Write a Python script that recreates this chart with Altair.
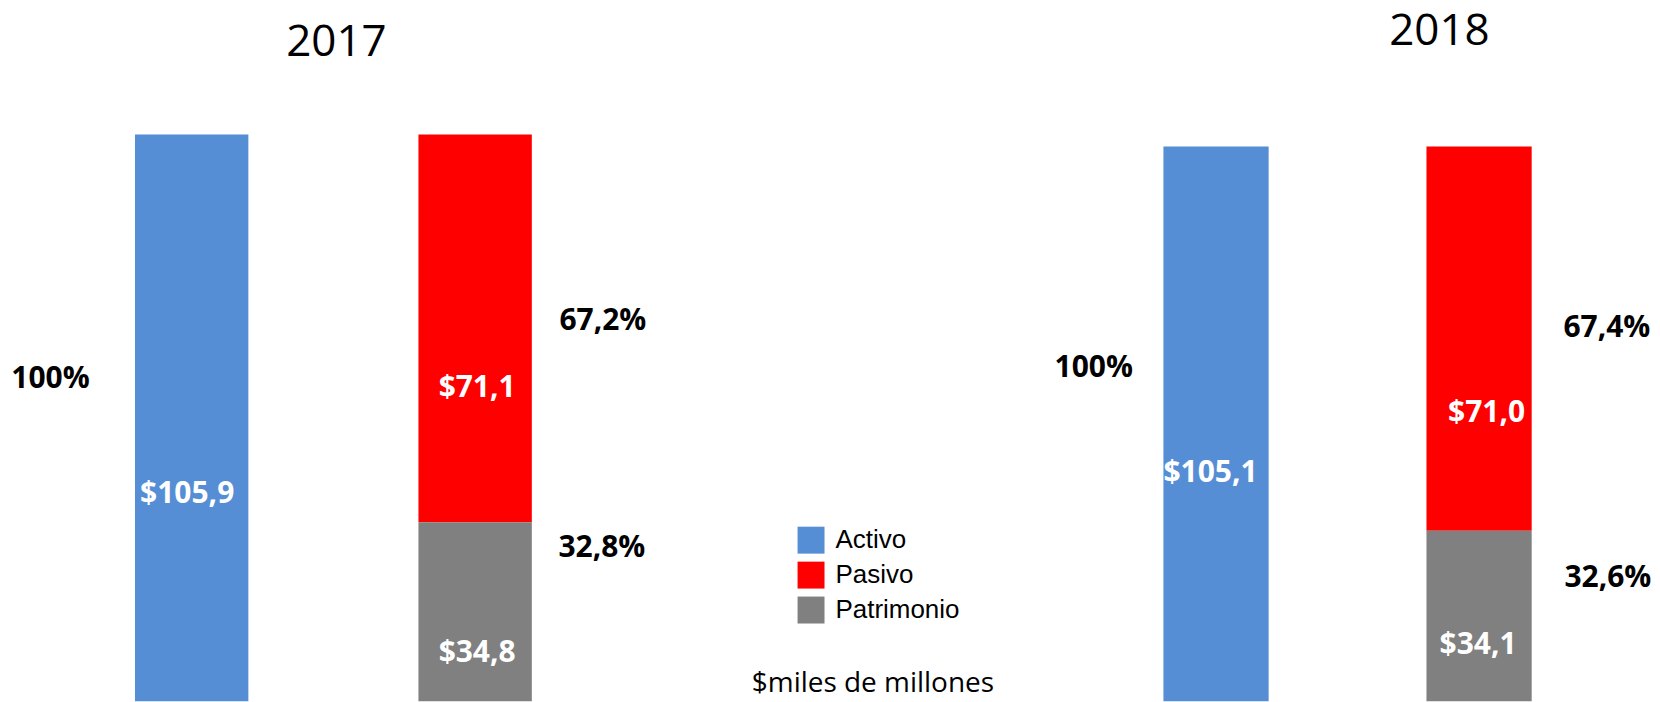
import altair as alt
import pandas as pd

# ---- data ----
years = ["2017", "2018"]
categories = ["Activo", "Pasivo", "Patrimonio"]
columns = ["Activo", "Pasivo y Patrimonio"]
activo = [105.9, 105.1]
pasivo = [71.1, 71.0]
patrimonio = [34.8, 34.1]
pct_activo = ["100%", "100%"]
pct_pasivo = ["67,2%", "67,4%"]
pct_patrimonio = ["32,8%", "32,6%"]
unit_text = "$miles de millones"

colors = ["#558ED5", "#FF0000", "#808080"]


def money(v):
    return "$" + f"{v:.1f}".replace(".", ",")


rows = []
for i, yr in enumerate(years):
    rows.append(dict(year=yr, cat="Activo", col=columns[0], y0=0.0, y1=activo[i],
                     val=money(activo[i]), pct=pct_activo[i]))
    rows.append(dict(year=yr, cat="Pasivo", col=columns[1], y0=patrimonio[i],
                     y1=patrimonio[i] + pasivo[i], val=money(pasivo[i]), pct=pct_pasivo[i]))
    rows.append(dict(year=yr, cat="Patrimonio", col=columns[1], y0=0.0, y1=patrimonio[i],
                     val=money(patrimonio[i]), pct=pct_patrimonio[i]))
df = pd.DataFrame(rows)
df["mid"] = (df["y0"] + df["y1"]) / 2

# ---- layout / style ----
H = 694
panel = {
    "2017": dict(width=652, pi=0.6, po=0.448, ydom=[1.99, 128.96], tdx=3, tdy=91),
    "2018": dict(width=604, pi=0.6, po=0.446, ydom=[2.56, 130.55], tdx=92, tdy=80),
}
nudge = {
    ("2017", "Activo"): dict(val=(-4.5, 71), pct=(-141.5, -44.5)),
    ("2017", "Pasivo"): dict(val=(2, 59.6), pct=(128, -7.4)),
    ("2017", "Patrimonio"): dict(val=(2, 35.7), pct=(127, -69.3)),
    ("2018", "Activo"): dict(val=(-5.5, 42), pct=(-122.5, -63)),
    ("2018", "Pasivo"): dict(val=(7.5, 75), pct=(128, -10.5)),
    ("2018", "Patrimonio"): dict(val=(-1, 22.6), pct=(129, -45.4)),
}

color = alt.Color(
    "cat:N",
    scale=alt.Scale(domain=categories, range=colors),
    legend=alt.Legend(
        title=None, orient="none", legendX=791, legendY=519,
        symbolType="square", symbolSize=729, symbolStrokeWidth=0, symbolOpacity=1,
        labelFont="Liberation Sans", labelFontSize=26, labelColor="black",
        labelOffset=11, rowPadding=8, padding=0,
    ),
)


def make_panel(yr, first):
    p = panel[yr]
    d = df[df["year"] == yr]
    if first:
        axis = alt.Axis(
            title=unit_text, labels=False, ticks=False, domain=False, grid=False,
            titleX=866, titleY=-10, titleBaseline="alphabetic", titleAlign="center",
            titleFont="Open Sans", titleFontSize=28, titleFontWeight="normal",
            titleColor="black",
        )
    else:
        axis = None
    x = alt.X("col:N", sort=columns, axis=axis,
              scale=alt.Scale(domain=columns, paddingInner=p["pi"], paddingOuter=p["po"]))
    yscale = alt.Scale(domain=p["ydom"], zero=False, nice=False)
    bars = alt.Chart(d).mark_bar(clip=True).encode(
        x=x,
        y=alt.Y("y0:Q", scale=yscale, axis=None),
        y2="y1:Q",
        color=color,
    )
    layers = [bars]
    for cat in categories:
        dc = d[d["cat"] == cat]
        (vdx, vdy) = nudge[(yr, cat)]["val"]
        (pdx, pdy) = nudge[(yr, cat)]["pct"]
        layers.append(
            alt.Chart(dc).mark_text(
                dx=vdx, dy=vdy, font="Open Sans", fontSize=30, fontWeight="bold",
                color="white", align="center", baseline="middle",
            ).encode(x=x, y=alt.Y("mid:Q", scale=yscale, axis=None), text="val:N")
        )
        layers.append(
            alt.Chart(dc).mark_text(
                dx=pdx, dy=pdy, font="Open Sans", fontSize=30, fontWeight="bold",
                color="black", align="center", baseline="middle",
            ).encode(x=x, y=alt.Y("mid:Q", scale=yscale, axis=None), text="pct:N")
        )
    return alt.layer(*layers).properties(
        width=p["width"], height=H,
        title=alt.TitleParams(
            text=yr, font="Open Sans", fontSize=44, fontWeight="normal", color="black",
            anchor="middle", frame="group", baseline="alphabetic", offset=0,
            dx=p["tdx"], dy=p["tdy"],
        ),
    )


chart = alt.hconcat(
    make_panel("2017", True), make_panel("2018", False),
    spacing=388, bounds="flush",
).resolve_scale(
    x="independent", y="independent", color="shared"
).properties(
    padding=0, background="white"
).configure_view(stroke=None)

chart.save("out.html", embed_options={"renderer": "svg", "actions": False})
